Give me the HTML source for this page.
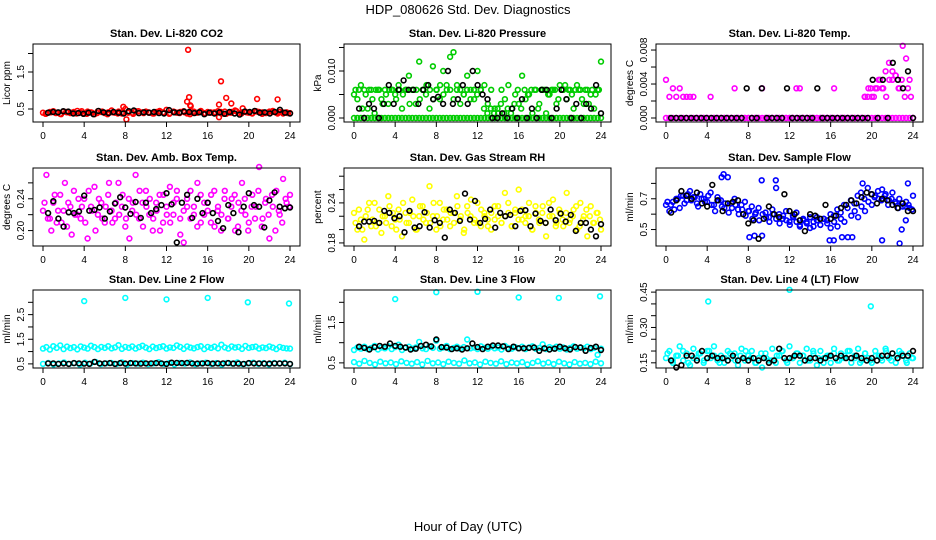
<!DOCTYPE html>
<html><head><meta charset="utf-8">
<style>
html,body{margin:0;padding:0;background:#fff;}
svg{display:block;font-family:"Liberation Sans",sans-serif;}
</style></head>
<body>
<svg id="chart" width="936" height="540" viewBox="0 0 936 540" xmlns="http://www.w3.org/2000/svg">
<text x="468" y="14" text-anchor="middle" font-size="13">HDP_080626  Std. Dev. Diagnostics</text>
<text x="468" y="531" text-anchor="middle" font-size="13">Hour of Day (UTC)</text>
</svg>
<script>
// ---- data (hours implied by start/end of each series) ----
const xTicks = [0,4,8,12,16,20,24];

// Panel 1: CO2
const co2Red = [0.40,0.38,0.42,0.44,0.40,0.37,0.43,0.41,0.39,0.42,0.45,0.40,0.38,0.43,0.41,0.36,0.44,0.42,0.39,0.41,0.46,0.40,0.43,0.38,0.50,0.42,0.40,0.44,0.39,0.41,0.43,0.40,0.38,0.42,0.45,0.41,0.48,0.39,0.43,0.40,0.42,0.44,0.38,0.41,0.43,0.40,0.45,0.39,0.42,0.40,0.41,0.44,0.38,0.43,0.40,0.42,0.46,0.39,0.41,0.43,0.40,0.38,0.44,0.42,0.41,0.39,0.43,0.45,0.40,0.42,0.38,0.41,0.39];
const co2Red2 = [0.37,0.41,0.39,0.36,0.42,0.40,0.38,0.44,0.37,0.40,0.39,0.43,0.36,0.41,0.38,0.42,0.40,0.37,0.44,0.39,0.41,0.38,0.43,0.40,0.37,0.42,0.39,0.41,0.36,0.40,0.43,0.38,0.41,0.39,0.42,0.37,0.40,0.44,0.38,0.41,0.39,0.43,0.37,0.40,0.42,0.38,0.41,0.39];
const co2OutHours = [14.1,14.2,14.0,14.35,17.3,17.8,18.3,17.1,20.8,22.8,7.8,8.1,17.1,19.4,14.3];
const co2OutVals = [2.10,0.82,0.70,0.58,1.25,0.80,0.65,0.62,0.77,0.76,0.56,0.22,0.28,0.52,0.60];
const co2Black = [0.40,0.42,0.41,0.44,0.43,0.38,0.39,0.37,0.40,0.36,0.45,0.41,0.39,0.42,0.40,0.38,0.44,0.46,0.39,0.41,0.40,0.42,0.39,0.38,0.47,0.41,0.40,0.43,0.42,0.39,0.41,0.36,0.40,0.38,0.41,0.37,0.42,0.38,0.35,0.43,0.42,0.45,0.40,0.41,0.38,0.42,0.48,0.40,0.38];

// Panel 2: pressure
const presGreen = [0.005,0.004,0.007,0.006,0.002,0.006,0.001,0.006,0.004,0.006,0.003,0.006,0.005,0.007,0.002,0.006,0.009,0.006,0.003,0.012,0.006,0.005,0.002,0.011,0.006,0.004,0.010,0.007,0.013,0.014,0.006,0.003,0.005,0.009,0.006,0.004,0.010,0.006,0.007,0.003,0.006,0.002,0.001,0.006,0.004,0.007,0.002,0.005,0.003,0.009,0.004,0.005,0.001,0.006,0.003,0.006,0.001,0.005,0.006,0.003,0.007,0.006,0.004,0.006,0.002,0.007,0.006,0.003,0.006,0.005,0.002,0.006,0.012];
const presGreen2 = [0.006,0.006,0.002,0.005,0.006,0.004,0.006,0.006,0.003,0.005,0.006,0.006,0.004,0.006,0.005,0.006,0.003,0.006,0.006,0.004,0.006,0.007,0.006,0.004,0.006,0.007,0.005,0.006,0.006,0.004,0.007,0.006,0.005,0.006,0.004,0.006,0.005,0.006,0.002,0.001,0.002,0.001,0.002,0.003,0.001,0.002,0.001,0.003,0.006,0.002,0.006,0.005,0.006,0.006,0.002,0.006,0.006,0.005,0.006,0.006,0.004,0.006,0.007,0.006,0.005,0.006,0.006,0.004,0.006,0.003,0.006,0.005,0.006];
const presGreenZero = [0,0,0,0,0,0,0,0,0,0,0,0,0,0,0,0,0,0,0,0,0,0,0,0,0,0,0,0,0,0,0,0,0,0,0,0,0,0,0,0,0,0,0,0,0,0,0,0,0,0,0,0,0,0,0,0,0,0,0,0,0,0,0,0,0,0,0,0,0,0,0,0,0];
const presBlack = [0.002,0,0.003,0.002,0,0.003,0.007,0.003,0.006,0.008,0.006,0.006,0.003,0.006,0.007,0.004,0.0045,0.003,0.010,0.003,0.004,0.007,0.003,0.010,0.007,0.005,0.004,0,0,0.001,0,0.002,0,0.004,0,0.002,0,0.006,0.006,0,0.002,0.006,0.004,0,0.003,0,0.003,0.002,0.007,0.001];

// Panel 3: Li-820 temp
const tempMag = [0.0045,0.0025,0.0035,0.0025,0.0035,0.0025,0.0025,0.0025,0.0025,0,0,0,0,0.0025,0,0,0,0,0,0,0.0035,0,0,0,0,0,0,0,0.0035,0,0,0,0,0,0,0,0,0,0.0035,0.0035,0,0,0,0,0,0,0,0,0,0.0035,0,0,0,0,0,0,0,0,0.0025,0.0035,0.0025,0.0035,0.0045,0.0035,0.0055,0.0065,0.0045,0.005,0.0035,0.0085,0.007,0.0045,0];
const tempMag2Hours = [19.3,19.6,19.9,20.2,20.5,20.8,21.1,21.4,21.7,22.0,22.3,22.6,22.9,23.2,23.5,23.8];
const tempMag2 = [0.0025,0.0025,0.0035,0.0025,0.0035,0.0045,0.0035,0.0025,0.0045,0.0055,0.005,0.0035,0.0045,0.0025,0.0035,0.0025];
const tempMagZero = [0,0,0,0,0,0,0,0,0,0,0,0,0,0,0,0,0,0,0,0,0,0,0,0,0,0,0,0,0,0,0,0,0,0,0,0,0,0,0,0,0,0,0,0,0,0,0,0,0,0,0,0,0,0,0,0,0,0,0,0,0,0,0,0,0,0,0,0,0,0,0,0,0];
const tempBlack = [0,0,0,0,0,0,0,0,0,0,0,0,0,0,0,0.0035,0,0,0.0035,0,0,0,0,0.0035,0,0,0,0,0,0.0035,0,0,0,0,0,0,0,0,0,0,0.0045,0,0.0045,0,0.0065,0.0045,0.0035,0.0055,0];

// Panel 4: amb box temp
const ambMag = [0.225,0.27,0.215,0.235,0.21,0.245,0.225,0.205,0.23,0.25,0.22,0.215,0.24,0.19,0.23,0.255,0.22,0.235,0.21,0.245,0.225,0.215,0.26,0.23,0.205,0.24,0.225,0.27,0.215,0.235,0.25,0.22,0.2,0.235,0.245,0.21,0.23,0.255,0.22,0.24,0.215,0.185,0.23,0.25,0.22,0.26,0.21,0.235,0.225,0.245,0.205,0.23,0.22,0.25,0.215,0.24,0.2,0.235,0.26,0.22,0.21,0.245,0.23,0.28,0.215,0.24,0.19,0.23,0.25,0.22,0.265,0.235,0.245];
const ambMag2 = [0.235,0.215,0.2,0.245,0.225,0.21,0.26,0.235,0.195,0.22,0.24,0.23,0.21,0.25,0.225,0.2,0.24,0.215,0.23,0.26,0.21,0.235,0.22,0.245,0.215,0.19,0.235,0.22,0.25,0.205,0.23,0.24,0.215,0.225,0.2,0.245,0.22,0.21,0.235,0.25,0.195,0.225,0.24,0.215,0.23,0.205,0.245,0.22,0.235,0.21,0.25,0.225,0.2,0.24,0.215,0.23,0.245,0.205,0.225,0.24,0.2,0.23,0.215,0.25,0.205,0.235,0.22,0.245,0.2,0.225,0.21,0.24,0.23];
const ambBlack = [0.222,0.237,0.215,0.205,0.223,0.222,0.224,0.244,0.225,0.226,0.229,0.215,0.224,0.234,0.242,0.229,0.221,0.236,0.216,0.235,0.222,0.227,0.232,0.247,0.233,0.185,0.235,0.245,0.216,0.24,0.222,0.235,0.222,0.212,0.203,0.232,0.222,0.198,0.23,0.247,0.232,0.23,0.204,0.238,0.248,0.23,0.228,0.229];

// Panel 5: gas stream RH
const rhYel = [0.225,0.2,0.215,0.185,0.23,0.205,0.24,0.21,0.195,0.22,0.25,0.205,0.215,0.23,0.19,0.225,0.21,0.245,0.2,0.22,0.235,0.21,0.265,0.22,0.2,0.24,0.215,0.23,0.205,0.225,0.25,0.215,0.195,0.235,0.22,0.21,0.24,0.205,0.225,0.215,0.2,0.235,0.22,0.21,0.255,0.225,0.205,0.23,0.26,0.215,0.22,0.24,0.2,0.225,0.21,0.235,0.19,0.22,0.245,0.21,0.225,0.205,0.255,0.215,0.23,0.2,0.24,0.22,0.19,0.235,0.21,0.225,0.2];
const rhYel2 = [0.21,0.23,0.2,0.22,0.24,0.215,0.205,0.23,0.22,0.21,0.235,0.225,0.2,0.215,0.24,0.21,0.225,0.22,0.2,0.235,0.215,0.225,0.21,0.24,0.22,0.205,0.23,0.215,0.225,0.21,0.235,0.22,0.2,0.225,0.245,0.215,0.21,0.23,0.22,0.205,0.225,0.215,0.235,0.21,0.22,0.24,0.205,0.225,0.215,0.23,0.21,0.22,0.2,0.235,0.215,0.225,0.21,0.24,0.22,0.205,0.23,0.215,0.225,0.21,0.22,0.235,0.205,0.215,0.23,0.22,0.21,0.225,0.215];
const rhBlack = [0.205,0.212,0.212,0.213,0.21,0.228,0.225,0.217,0.22,0.196,0.228,0.203,0.205,0.226,0.203,0.214,0.21,0.188,0.23,0.225,0.213,0.254,0.215,0.243,0.21,0.216,0.23,0.203,0.225,0.22,0.222,0.205,0.228,0.229,0.205,0.224,0.213,0.21,0.23,0.214,0.224,0.212,0.222,0.198,0.21,0.21,0.2,0.19,0.208];

// Panel 6: sample flow
const sfBlue = [0.66,0.62,0.68,0.70,0.64,0.72,0.69,0.75,0.71,0.67,0.73,0.70,0.68,0.74,0.66,0.71,0.69,0.64,0.84,0.67,0.70,0.63,0.66,0.68,0.62,0.65,0.60,0.64,0.46,0.61,0.58,0.63,0.82,0.60,0.57,0.62,0.55,0.59,0.61,0.53,0.57,0.55,0.58,0.52,0.56,0.53,0.57,0.54,0.51,0.55,0.52,0.57,0.55,0.45,0.59,0.62,0.58,0.65,0.62,0.68,0.66,0.72,0.70,0.76,0.73,0.69,0.74,0.67,0.70,0.65,0.68,0.64,0.72];
const sfBlue2 = [0.68,0.66,0.63,0.70,0.72,0.67,0.73,0.69,0.71,0.65,0.70,0.68,0.72,0.66,0.62,0.69,0.65,0.67,0.61,0.64,0.66,0.60,0.63,0.59,0.62,0.57,0.61,0.56,0.60,0.58,0.55,0.60,0.57,0.54,0.59,0.56,0.53,0.58,0.55,0.52,0.56,0.54,0.51,0.55,0.58,0.53,0.57,0.56,0.60,0.59,0.63,0.61,0.66,0.64,0.69,0.67,0.72,0.74,0.70,0.77,0.73,0.71,0.75,0.69,0.72,0.66,0.70,0.68,0.64,0.67,0.65,0.66,0.63];
const sfOutHours = [5.4,5.6,9.3,10.7,8.1,8.6,15.9,16.3,17.1,18.1,21.0,22.7,22.9,23.3,23.5,19.1];
const sfOutVals = [0.84,0.86,0.82,0.77,0.45,0.46,0.43,0.43,0.45,0.45,0.43,0.41,0.50,0.56,0.80,0.80];
const sfBlack = [0.61,0.69,0.75,0.72,0.70,0.74,0.67,0.65,0.79,0.69,0.62,0.67,0.68,0.69,0.60,0.54,0.56,0.44,0.57,0.65,0.60,0.58,0.73,0.62,0.60,0.56,0.49,0.60,0.59,0.57,0.66,0.57,0.59,0.64,0.66,0.69,0.67,0.71,0.74,0.73,0.67,0.70,0.69,0.66,0.64,0.67,0.62,0.62];

// Panel 7: line 2 flow
const l2CyanHi = [1.12,1.18,1.08,1.22,1.15,1.25,1.10,1.20,1.14,1.18,1.09,1.21,1.16,1.12,1.24,1.18,1.10,1.19,1.15,1.22,1.13,1.17,1.26,1.11,1.19,1.15,1.21,1.12,1.18,1.24,1.16,1.10,1.20,1.14,1.18,1.22,1.12,1.17,1.15,1.25,1.19,1.11,1.21,1.16,1.13,1.18,1.22,1.10,1.19,1.15,1.20,1.13,1.28,1.17,1.12,1.21,1.16,1.19,1.11,1.23,1.15,1.18,1.20,1.12,1.17,1.14,1.21,1.16,1.10,1.19,1.15,1.13,1.12];
const l2CyanLo = [0.50,0.54,0.48,0.52,0.56,0.50,0.53,0.47,0.55,0.51,0.58,0.49,0.52,0.54,0.50,0.56,0.48,0.53,0.51,0.55,0.49,0.52,0.57,0.50,0.53,0.48,0.54,0.51,0.56,0.49,0.52,0.55,0.50,0.53,0.47,0.54,0.51,0.56,0.49,0.52,0.55,0.50,0.53,0.48,0.54,0.51,0.55,0.49];
const l2OutHours = [4.0,8.0,12.0,16.0,19.9,23.9];
const l2OutVals = [3.05,3.18,3.12,3.18,3.00,2.95];
const l2Black = [0.52,0.52,0.50,0.52,0.50,0.53,0.52,0.51,0.50,0.58,0.52,0.52,0.53,0.50,0.53,0.51,0.53,0.52,0.51,0.52,0.52,0.53,0.52,0.50,0.55,0.54,0.53,0.54,0.52,0.51,0.52,0.53,0.51,0.52,0.52,0.53,0.51,0.51,0.50,0.53,0.52,0.52,0.51,0.51,0.52,0.52,0.52,0.50];

// Panel 8: line 3 flow
const l3CyanHi = [0.82,0.88,0.85,0.90,0.84,0.87,0.92,0.83,0.88,0.86,0.91,0.84,0.89,0.95,0.82,0.87,0.90,0.85,0.88,1.02,0.86,0.84,0.91,0.87,1.05,0.85,0.88,0.92,0.84,0.87,0.90,0.85,0.89,1.08,0.86,0.88,0.84,0.91,0.87,0.85,0.90,0.86,0.88,0.83,0.92,0.87,0.85,0.89,0.86,0.90,0.84,0.88,0.91,0.85,0.87,0.96,0.84,0.89,0.86,0.90,0.85,0.88,0.83,0.87,0.91,0.85,0.88,0.86,0.90,0.84,0.87,0.70,0.85];
const l3CyanLo = [0.52,0.48,0.55,0.50,0.46,0.53,0.49,0.51,0.47,0.54,0.50,0.48,0.52,0.46,0.55,0.49,0.51,0.47,0.53,0.50,0.48,0.56,0.49,0.51,0.46,0.53,0.50,0.48,0.54,0.47,0.51,0.49,0.52,0.46,0.50,0.54,0.48,0.51,0.47,0.53,0.49,0.46,0.52,0.48,0.50,0.47,0.53,0.49];
const l3OutHours = [4.0,8.0,12.0,16.0,19.9,23.9];
const l3OutVals = [2.08,2.25,2.26,2.12,2.11,2.15];
const l3Black = [0.90,0.87,0.83,0.89,0.92,0.90,0.98,0.92,0.90,0.88,0.83,0.85,0.92,0.95,0.91,1.08,0.89,0.88,0.84,0.86,0.83,0.86,0.98,0.89,0.84,0.90,0.93,0.93,0.91,0.84,0.90,0.86,0.86,0.87,0.88,0.80,0.86,0.83,0.85,0.90,0.86,0.83,0.89,0.88,0.80,0.87,0.90,0.82];

// Panel 9: line 4 (LT) flow
const l4Cyan = [0.17,0.20,0.15,0.18,0.22,0.16,0.19,0.14,0.21,0.17,0.19,0.15,0.20,0.17,0.22,0.16,0.18,0.15,0.20,0.17,0.19,0.14,0.21,0.16,0.18,0.20,0.15,0.17,0.13,0.19,0.16,0.21,0.15,0.18,0.20,0.16,0.22,0.17,0.19,0.15,0.18,0.21,0.16,0.19,0.14,0.20,0.17,0.18,0.15,0.21,0.16,0.19,0.17,0.20,0.15,0.18,0.21,0.16,0.19,0.17,0.15,0.20,0.18,0.16,0.21,0.17,0.19,0.15,0.20,0.18,0.16,0.19,0.17];
const l4Cyan2 = [0.19,0.16,0.18,0.20,0.15,0.17,0.19,0.16,0.20,0.18,0.15,0.17,0.19,0.16,0.18,0.20,0.17,0.15,0.19,0.17,0.16,0.18,0.20,0.15,0.17,0.19,0.18,0.16,0.20,0.17,0.15,0.18,0.19,0.16,0.18,0.20,0.17,0.15,0.19,0.16,0.18,0.17,0.20,0.16,0.18,0.19,0.15,0.17];
const l4OutHours = [4.1,12.0,19.9];
const l4OutVals = [0.41,0.46,0.39];
const l4Black = [0.16,0.13,0.14,0.18,0.18,0.16,0.20,0.17,0.18,0.17,0.17,0.16,0.18,0.16,0.17,0.16,0.17,0.16,0.17,0.15,0.16,0.21,0.17,0.17,0.18,0.18,0.16,0.17,0.17,0.16,0.17,0.18,0.17,0.18,0.17,0.17,0.18,0.17,0.16,0.17,0.16,0.18,0.18,0.19,0.17,0.18,0.18,0.20];

// ---- layout ----
const NS = 'http://www.w3.org/2000/svg';
const svg = document.getElementById('chart');
const colLeft = [33, 344, 656];
const rowTop = [44, 168, 290];
const boxW = 267, boxH = 78;

function mk(tag, attrs, parent){
  const e = document.createElementNS(NS, tag);
  for (const k in attrs) e.setAttribute(k, attrs[k]);
  (parent||svg).appendChild(e);
  return e;
}

const panels = [
 {name:'co2', title:'Stan. Dev. Li-820 CO2', ylab:'Licor ppm', col:0,row:0, lo:0.149, hi:2.257, ticks:[0.5,1.0,1.5,2.0], labels:['0.5','','1.5',''],
  series:[{v:co2Red,h0:0,h1:24,c:'#ff0000'},{v:co2Red2,h0:0.25,h1:23.8,c:'#ff0000'},{v:co2OutVals,h:co2OutHours,c:'#ff0000'},{v:co2Black,h0:0.5,h1:24,c:'#000'}]},
 {name:'pressure', title:'Stan. Dev. Li-820 Pressure', ylab:'kPa', col:1,row:0, lo:-0.00085, hi:0.01574, ticks:[0,0.005,0.010,0.015], labels:['0.000','','0.010',''],
  series:[{v:presGreenZero,h0:0,h1:24,c:'#00cc00'},{v:presGreen,h0:0,h1:24,c:'#00cc00'},{v:presGreen2,h0:0.15,h1:23.8,c:'#00cc00'},{v:presBlack,h0:0.5,h1:24,c:'#000'}]},
 {name:'li820-temp', title:'Stan. Dev. Li-820 Temp.', ylab:'degrees C', col:2,row:0, lo:-0.00047, hi:0.00871, ticks:[0,0.002,0.004,0.006,0.008], labels:['0.000','','0.004','','0.008'],
  series:[{v:tempMagZero,h0:0,h1:24,c:'#ff00ff'},{v:tempMag,h0:0,h1:24,c:'#ff00ff'},{v:tempMag2,h:tempMag2Hours,c:'#ff00ff'},{v:tempBlack,h0:0.5,h1:24,c:'#000'}]},
 {name:'amb-box-temp', title:'Stan. Dev. Amb. Box Temp.', ylab:'degrees C', col:0,row:1, lo:0.1806, hi:0.2787, ticks:[0.20,0.22,0.24,0.26], labels:['0.20','','0.24',''],
  series:[{v:ambMag,h0:0,h1:24,c:'#ff00ff'},{v:ambMag2,h0:0.15,h1:23.9,c:'#ff00ff'},{v:ambBlack,h0:0.5,h1:24,c:'#000'}]},
 {name:'gas-stream-rh', title:'Stan. Dev. Gas Stream RH', ylab:'percent', col:1,row:1, lo:0.1754, hi:0.2923, ticks:[0.18,0.20,0.22,0.24,0.26,0.28], labels:['0.18','','','0.24','',''],
  series:[{v:rhYel,h0:0,h1:24,c:'#ffff00'},{v:rhYel2,h0:0.15,h1:23.9,c:'#ffff00'},{v:rhBlack,h0:0.5,h1:24,c:'#000'}]},
 {name:'sample-flow', title:'Stan. Dev. Sample Flow', ylab:'ml/min', col:2,row:1, lo:0.393, hi:0.90, ticks:[0.5,0.6,0.7,0.8], labels:['0.5','','0.7',''],
  series:[{v:sfBlue,h0:0,h1:24,c:'#0000ff'},{v:sfBlue2,h0:0.15,h1:23.9,c:'#0000ff'},{v:sfOutVals,h:sfOutHours,c:'#0000ff'},{v:sfBlack,h0:0.5,h1:24,c:'#000'}]},
 {name:'line2-flow', title:'Stan. Dev. Line 2 Flow', ylab:'ml/min', col:0,row:2, lo:0.333, hi:3.5, ticks:[0.5,1.0,1.5,2.0,2.5,3.0], labels:['0.5','','1.5','','2.5',''],
  series:[{v:l2CyanHi,h0:0,h1:24,c:'#00ffff'},{v:l2CyanLo,h0:0,h1:24,c:'#00ffff'},{v:l2OutVals,h:l2OutHours,c:'#00ffff'},{v:l2Black,h0:0.5,h1:24,c:'#000'}]},
 {name:'line3-flow', title:'Stan. Dev. Line 3 Flow', ylab:'ml/min', col:1,row:2, lo:0.373, hi:2.305, ticks:[0.5,1.0,1.5,2.0], labels:['0.5','','1.5',''],
  series:[{v:l3CyanHi,h0:0,h1:24,c:'#00ffff'},{v:l3CyanLo,h0:0,h1:24,c:'#00ffff'},{v:l3OutVals,h:l3OutHours,c:'#00ffff'},{v:l3Black,h0:0.5,h1:24,c:'#000'}]},
 {name:'line4-flow', title:'Stan. Dev. Line 4 (LT) Flow', ylab:'ml/min', col:2,row:2, lo:0.128, hi:0.459, ticks:[0.15,0.20,0.25,0.30,0.35,0.40,0.45], labels:['0.15','','','0.30','','','0.45'],
  series:[{v:l4Cyan,h0:0,h1:24,c:'#00ffff'},{v:l4Cyan2,h0:0.15,h1:23.9,c:'#00ffff'},{v:l4OutVals,h:l4OutHours,c:'#00ffff'},{v:l4Black,h0:0.5,h1:24,c:'#000'}]}
];

panels.forEach(p => {
  const L = colLeft[p.col], T = rowTop[p.row], B = T + boxH;
  const xs = h => L + 10 + h * (boxW - 20) / 24;
  const ys = v => B - (v - p.lo) / (p.hi - p.lo) * boxH;
  const g = mk('g', {});
  
  

  const t = mk('text', {x: L + boxW/2, y: T - 7, 'text-anchor':'middle', 'font-size':'11', 'font-weight':'bold'}, g);
  
  
  t.textContent = p.title;

  // points
  const pts = mk('g', {fill:'none', 'stroke-width':'1.6'}, g);
  
  
  p.series.forEach(s => {
    s.v.forEach((v, i) => {
      const h = s.h ? s.h[i] : s.h0 + i * (s.h1 - s.h0) / (s.v.length - 1);
      const c = mk('circle', {cx: xs(h).toFixed(1), cy: ys(v).toFixed(1), r: 2.4, stroke: s.c}, pts);
      
      
    });
  });

  const box = mk('rect', {x: L, y: T, width: boxW, height: boxH, fill:'none', stroke:'#000', 'stroke-width':'1'}, g);
  
  

  // x axis
  xTicks.forEach(h => {
    const x = xs(h);
    mk('line', {x1:x, x2:x, y1:B, y2:B+5, stroke:'#000'}, g);
    const lt = mk('text', {x:x, y:B+17, 'text-anchor':'middle', 'font-size':'10'}, g);
    
    
    lt.textContent = h;
  });
  // y axis
  p.ticks.forEach((v, i) => {
    const y = ys(v);
    mk('line', {x1:L-5, x2:L, y1:y, y2:y, stroke:'#000'}, g);
    if (p.labels[i]) {
      const lt = mk('text', {x:L-9, y:y, 'text-anchor':'middle', 'font-size':'10', transform:`rotate(-90 ${L-9} ${y})`}, g);
      
      
      lt.textContent = p.labels[i];
    }
  });
  const yl = mk('text', {x:L-23, y:T+boxH/2, 'text-anchor':'middle', 'font-size':'10', transform:`rotate(-90 ${L-23} ${T+boxH/2})`}, g);
  
  
  yl.textContent = p.ylab;
});
</script>
</body></html>
